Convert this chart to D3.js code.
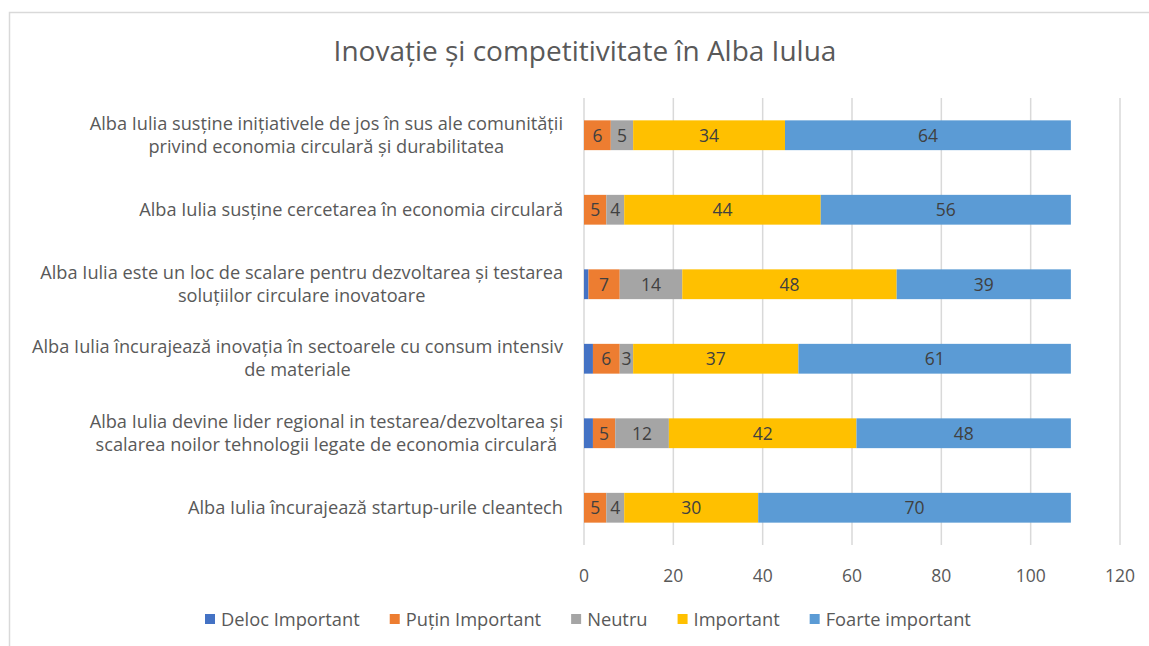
<!DOCTYPE html>
<html>
<head>
<meta charset="utf-8">
<script src="https://cdn.jsdelivr.net/npm/d3@7"></script>
<style>
  body { margin: 0; background: #fff; }
  svg { display: block; font-family: "Open Sans", Lato, sans-serif; }
</style>
</head>
<body>
<svg id="chart" width="1149" height="646"></svg>
<script>
// ----- DATA -----
var categories = [
  ["Alba Iulia susține inițiativele de jos în sus ale comunității", "privind economia circulară și durabilitatea"],
  ["Alba Iulia susține cercetarea în economia circulară"],
  ["Alba Iulia este un loc de scalare pentru dezvoltarea și testarea", "soluțiilor circulare inovatoare"],
  ["Alba Iulia încurajează inovația în sectoarele cu consum intensiv", "de materiale"],
  ["Alba Iulia devine lider regional in testarea/dezvoltarea și", "scalarea noilor tehnologii legate de economia circulară"],
  ["Alba Iulia încurajează startup-urile cleantech"]
];
var seriesNames = ["Deloc Important", "Puțin Important", "Neutru", "Important", "Foarte important"];
var delocImportant = [0, 0, 1, 2, 2, 0];
var putinImportant = [6, 5, 7, 6, 5, 5];
var neutru = [5, 4, 14, 3, 12, 4];
var important = [34, 44, 48, 37, 42, 30];
var foarteImportant = [64, 56, 39, 61, 48, 70];
var xTicks = [0, 20, 40, 60, 80, 100, 120];
var colors = ["#4472C4", "#ED7D31", "#A5A5A5", "#FFC000", "#5B9BD5"];

var svg = d3.select("#chart");

// chart frame
svg.append("rect")
  .attr("x", 9.5).attr("y", 12.5)
  .attr("width", 1160).attr("height", 660)
  .attr("fill", "#fff").attr("stroke", "#D9D9D9").attr("stroke-width", 1.5);

svg.append("text")
  .attr("x", 585).attr("y", 61)
  .attr("text-anchor", "middle")
  .attr("font-size", 28)
  .attr("fill", "#595959")
  .text("Inovație și competitivitate în Alba Iulua");

var x = d3.scaleLinear().domain([0, 120]).range([584, 1120]);
var y = d3.scaleBand()
  .domain(d3.range(categories.length))
  .range([98, 545])
  .paddingInner(0.6)
  .paddingOuter(0.3);

// gridlines
svg.append("g").selectAll("line")
  .data(xTicks)
  .join("line")
  .attr("x1", d => x(d)).attr("x2", d => x(d))
  .attr("y1", 98).attr("y2", 545)
  .attr("stroke", "#D9D9D9").attr("stroke-width", 1.5);

// x tick labels
svg.append("g").selectAll("text")
  .data(xTicks)
  .join("text")
  .attr("x", d => x(d)).attr("y", 582)
  .attr("text-anchor", "middle")
  .attr("font-size", 17.5)
  .attr("fill", "#595959")
  .text(d => d);

// stacked bars
var rows = categories.map(function(c, i) {
  return [delocImportant[i], putinImportant[i], neutru[i], important[i], foarteImportant[i]];
});
var stack = d3.stack().keys(d3.range(seriesNames.length))(rows);

var layers = svg.append("g").selectAll("g")
  .data(stack)
  .join("g")
  .attr("fill", (d, i) => colors[i]);

layers.selectAll("rect")
  .data(d => d.map((v, i) => ({ v: v, i: i })))
  .join("rect")
  .attr("x", d => x(d.v[0]))
  .attr("width", d => x(d.v[1]) - x(d.v[0]))
  .attr("y", d => y(d.i))
  .attr("height", y.bandwidth());

// data labels (small values are not labelled)
layers.selectAll("text")
  .data(d => d.map((v, i) => ({ v: v, i: i })).filter(d => d.v[1] - d.v[0] >= 3))
  .join("text")
  .attr("x", d => (x(d.v[0]) + x(d.v[1])) / 2)
  .attr("y", d => y(d.i) + y.bandwidth() / 2 + 6.5)
  .attr("text-anchor", "middle")
  .attr("font-size", 17.5)
  .attr("fill", "#404040")
  .text(d => d.v[1] - d.v[0]);

// category labels: block right-aligned, lines centred inside the block
var labelRight = 563;
categories.forEach(function(lines, i) {
  var g = svg.append("g");
  var cy = y(i) + y.bandwidth() / 2;
  var texts = lines.map(function(line, k) {
    return g.append("text")
      .attr("y", cy + 6 + (k - (lines.length - 1) / 2) * 23)
      .attr("font-size", 18.2)
      .attr("fill", "#595959")
      .attr("text-anchor", "middle")
      .text(line);
  });
  var w = d3.max(texts, t => t.node().getComputedTextLength());
  texts.forEach(t => t.attr("x", labelRight - w / 2));
});

// legend
var legend = svg.append("g");
var lx = 205;
seriesNames.forEach(function(name, i) {
  legend.append("rect")
    .attr("x", lx).attr("y", 614)
    .attr("width", 10).attr("height", 10)
    .attr("fill", colors[i]);
  var t = legend.append("text")
    .attr("x", lx + 16).attr("y", 625.5)
    .attr("font-size", 18.3)
    .attr("fill", "#595959")
    .text(name);
  lx += 16 + t.node().getComputedTextLength() + 30;
});
</script>
</body>
</html>
